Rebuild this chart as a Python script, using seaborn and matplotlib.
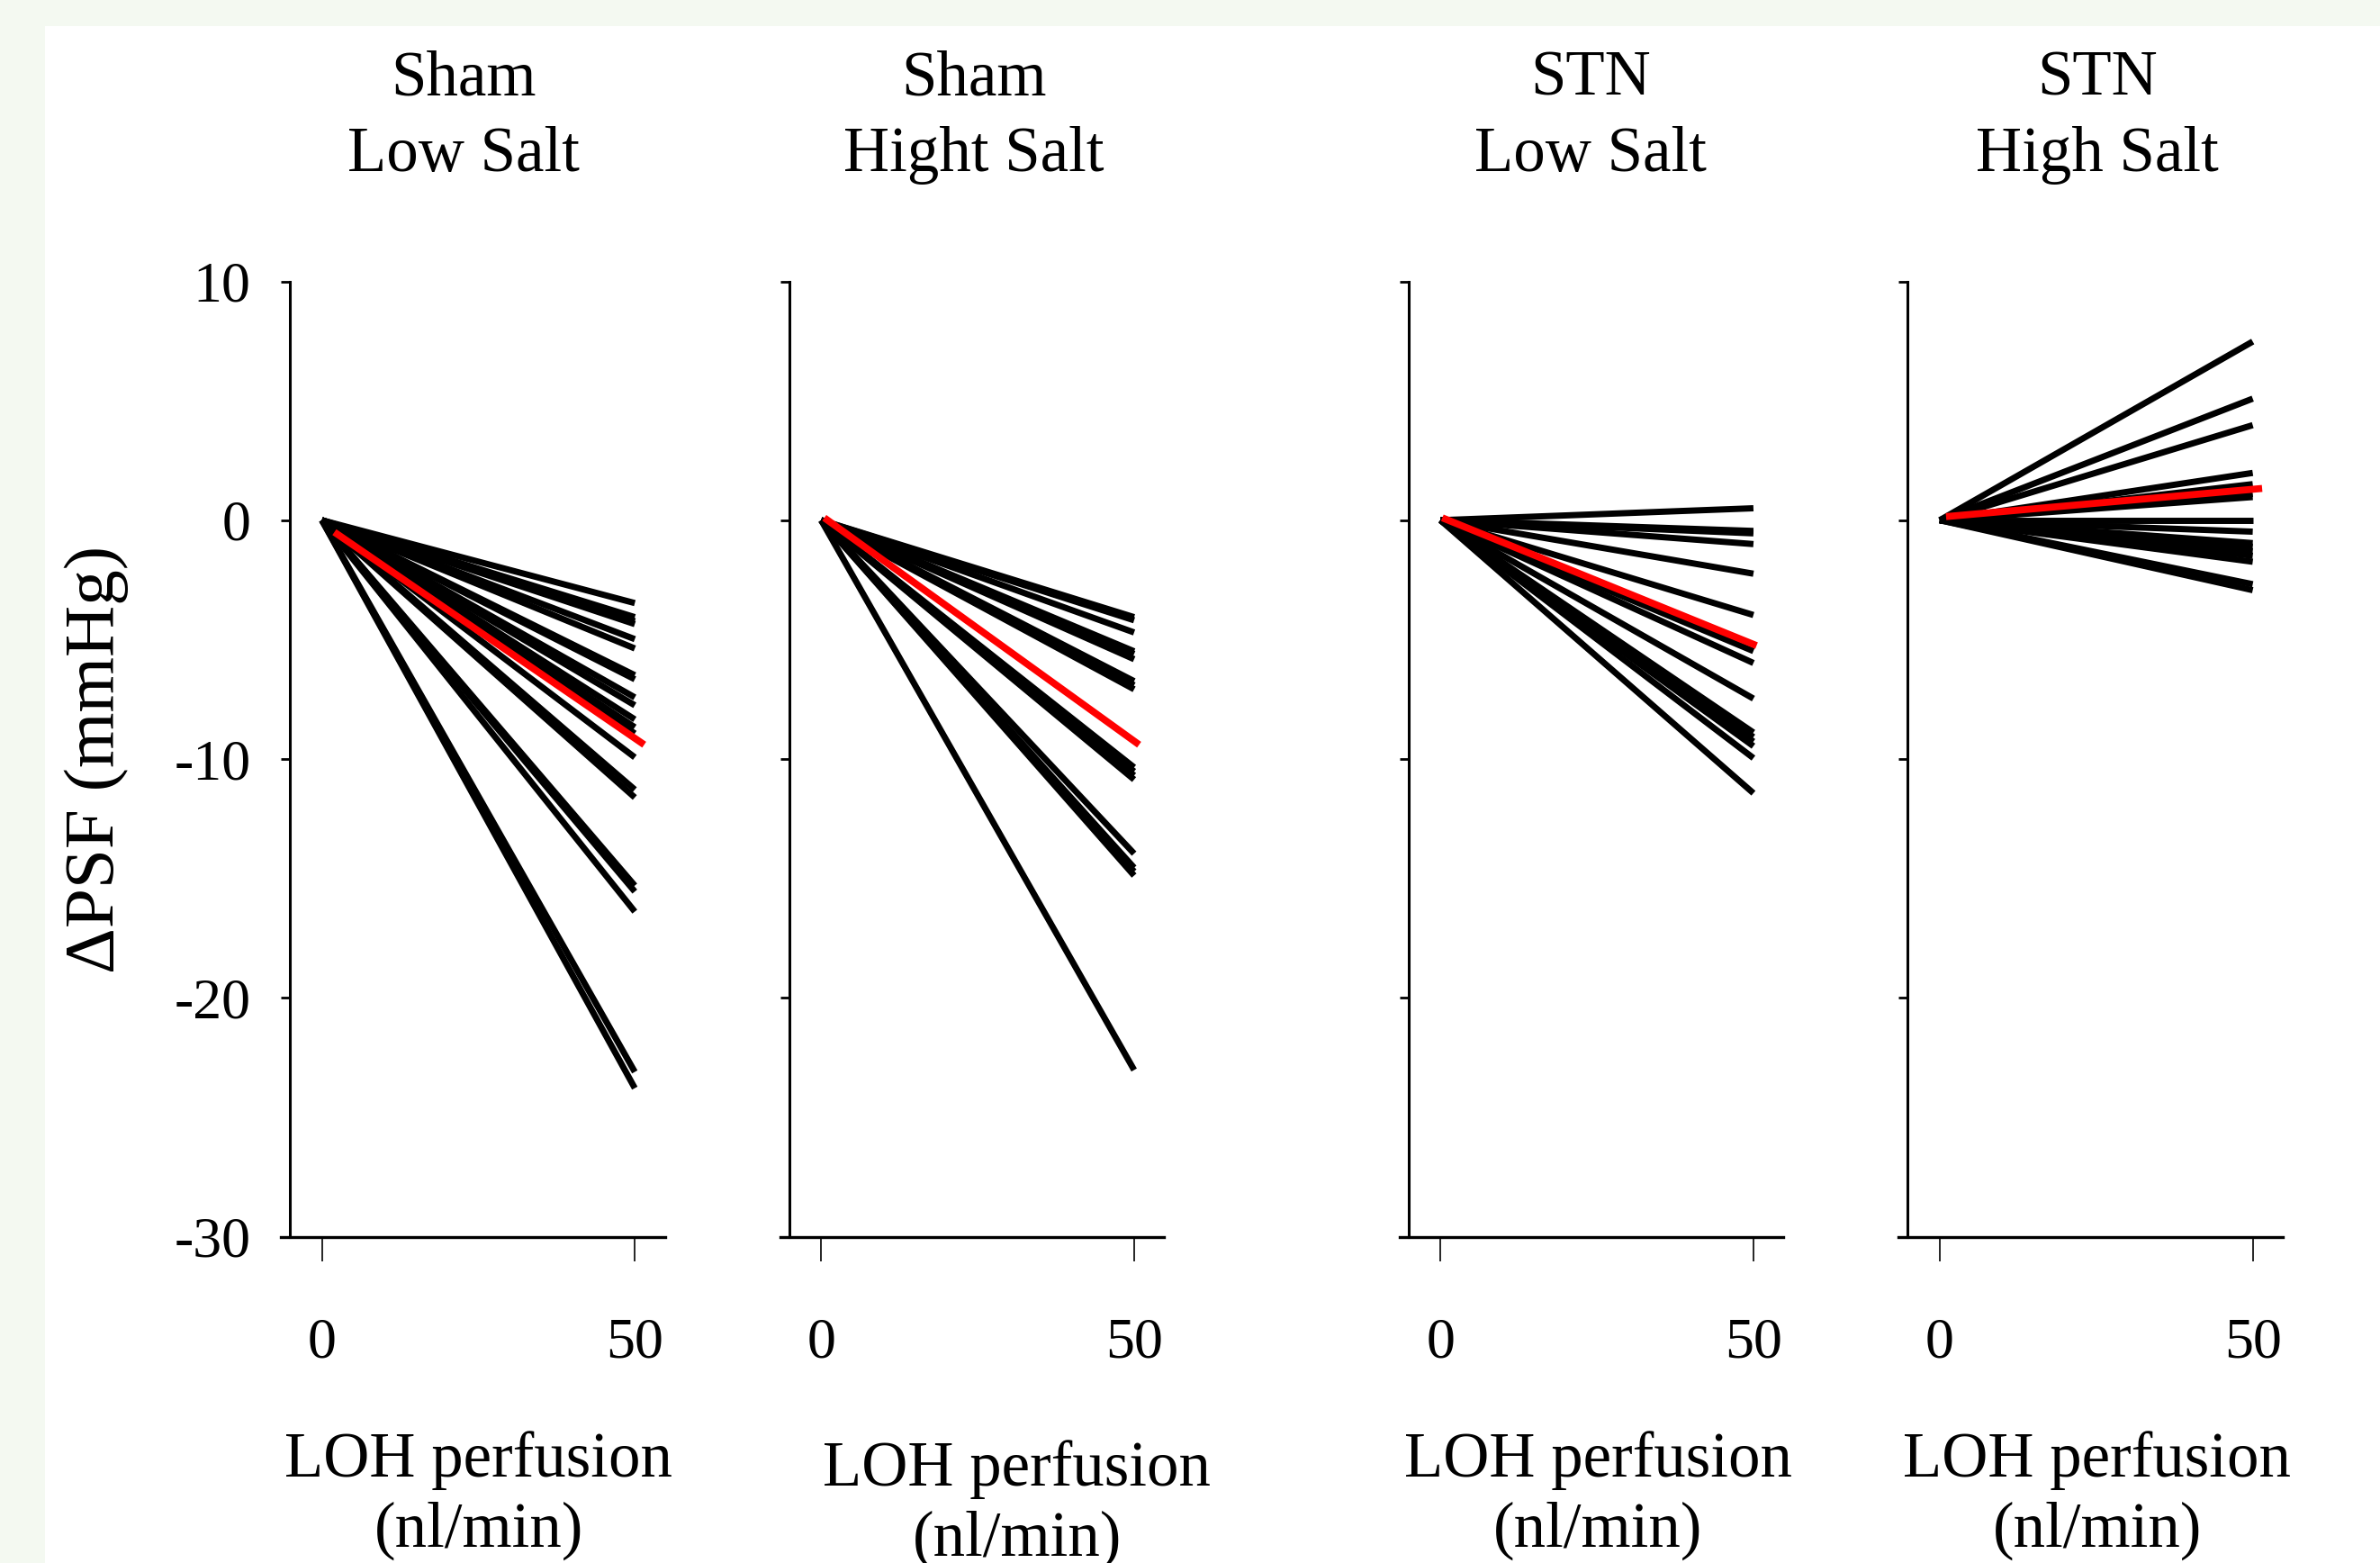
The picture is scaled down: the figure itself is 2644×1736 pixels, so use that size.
import numpy as np
import pandas as pd
import matplotlib
matplotlib.use("Agg")
import matplotlib.pyplot as plt
import seaborn as sns

# ---------------- data ----------------
panel_titles = [("Sham", "Low Salt"), ("Sham", "Hight Salt"),
                ("STN", "Low Salt"), ("STN", "High Salt")]
x_start = 0
x_end = 50

sham_low_end = [-3.47, -4.06, -4.23, -4.35, -4.98, -5.37, -6.49, -6.66, -7.42,
                -7.75, -8.34, -8.67, -8.93, -9.93, -11.28, -11.61, -15.30,
                -15.55, -16.39, -23.10, -23.78]
sham_high_end = [-4.06, -4.19, -4.70, -5.49, -5.60, -5.82, -6.74, -6.91, -7.08,
                 -10.35, -10.52, -10.69, -10.86, -13.96, -14.55, -14.71,
                 -14.88, -23.02]
stn_low_end = [0.50, -0.45, -0.55, -1.00, -2.24, -3.97, -5.48, -5.98, -7.47,
               -8.89, -9.08, -9.27, -9.46, -9.96, -11.43]
stn_high_end = [7.48, 5.09, 3.98, 1.98, 1.51, 1.10, 0.97, 0.00, -0.48, -0.96,
                -1.11, -1.30, -1.49, -1.74, -2.68, -2.93]
end_values = [sham_low_end, sham_high_end, stn_low_end, stn_high_end]

# red (mean) lines: x and y of the two ends
red_x = [[2.0, 51.5], [0.5, 50.8], [0.3, 50.5], [1.0, 51.5]]
red_y = [[-0.5, -9.4], [0.1, -9.4], [0.1, -5.25], [0.15, 1.33]]

x_ticks = [0, 50]
y_ticks = [10, 0, -10, -20, -30]
y_label = "ΔPSF (mmHg)"
x_label = ("LOH perfusion", "(nl/min)")

# ---------------- style ----------------
sns.set_theme(style="white")
plt.rcParams["font.family"] = ["Liberation Serif", "DejaVu Serif"]
plt.rcParams["axes.facecolor"] = "white"
plt.rcParams["axes.unicode_minus"] = False

W, H = 2644, 1736
fig = plt.figure(figsize=(W / 100, H / 100), dpi=100, facecolor="#f4f9f1")
fig.patches.append(plt.Rectangle((50 / W, 0), 1, 1 - 29 / H,
                                 transform=fig.transFigure,
                                 facecolor="white", edgecolor="none",
                                 zorder=-10))

lefts = [312 / W, 866.7 / W, 1554.7 / W, 2109.4 / W]
width = 426.6 / W
bottom = 1 - 1373.6 / H
top = 1 - 312.5 / H

title_x = [515 / W, 1082 / W, 1767 / W, 2330 / W]
xlabel_x = [532 / W, 1130 / W, 1775 / W, 2330 / W]
xlabel_dy = [0, -10, 0, 0]

for i in range(4):
    ax = fig.add_axes([lefts[i], bottom, width, top - bottom])
    ax.patch.set_alpha(0)
    ends = end_values[i]
    df = pd.DataFrame({
        "subject": np.repeat(np.arange(len(ends)), 2),
        "x": np.tile([x_start, x_end], len(ends)),
        "y": np.ravel([[0.0, e] for e in ends]),
    })
    sns.lineplot(data=df, x="x", y="y", units="subject", estimator=None,
                 color="black", lw=5.0, ax=ax, solid_capstyle="butt",
                 legend=False)
    dfr = pd.DataFrame({"x": red_x[i], "y": red_y[i]})
    sns.lineplot(data=dfr, x="x", y="y", estimator=None, color="#ff0000",
                 lw=5.6, ax=ax, solid_capstyle="butt", legend=False, zorder=5)

    ax.set_xlim(-6.55, 54.8)
    ax.set_ylim(-30, 10)
    ax.set_xticks(x_ticks)
    ax.set_yticks(y_ticks)
    ax.set_xlabel("")
    ax.set_ylabel("")
    for s in ["top", "right"]:
        ax.spines[s].set_visible(False)
    ax.spines["left"].set_position(("data", -5.1))
    ax.spines["left"].set_linewidth(2.2)
    ax.spines["bottom"].set_linewidth(2.4)
    ax.spines["left"].set_color("black")
    ax.spines["bottom"].set_color("black")
    ax.tick_params(axis="x", direction="out", length=19.5, width=1.2,
                   pad=45, labelsize=46, colors="black", bottom=True)
    ax.tick_params(axis="y", direction="out", length=7.5, width=2.0,
                   pad=24, labelsize=46, colors="black", left=True)
    if i > 0:
        ax.set_yticklabels([])
    ax.grid(False)

    t1, t2 = panel_titles[i]
    fig.text(title_x[i], 1 - 105 / H, t1, ha="center", va="baseline",
             fontsize=51, color="black")
    fig.text(title_x[i], 1 - 190 / H, t2, ha="center", va="baseline",
             fontsize=51, color="black")
    fig.text(xlabel_x[i], 1 - (1640 - xlabel_dy[i]) / H, x_label[0],
             ha="center", va="baseline", fontsize=51, color="black")
    fig.text(xlabel_x[i], 1 - (1718 - xlabel_dy[i]) / H, x_label[1],
             ha="center", va="baseline", fontsize=51, color="black")

fig.text(107 / W, 1 - 843 / H, y_label, rotation=90, ha="center",
         va="center", fontsize=57, color="black")

fig.savefig("out.png", dpi=100, facecolor=fig.get_facecolor())
